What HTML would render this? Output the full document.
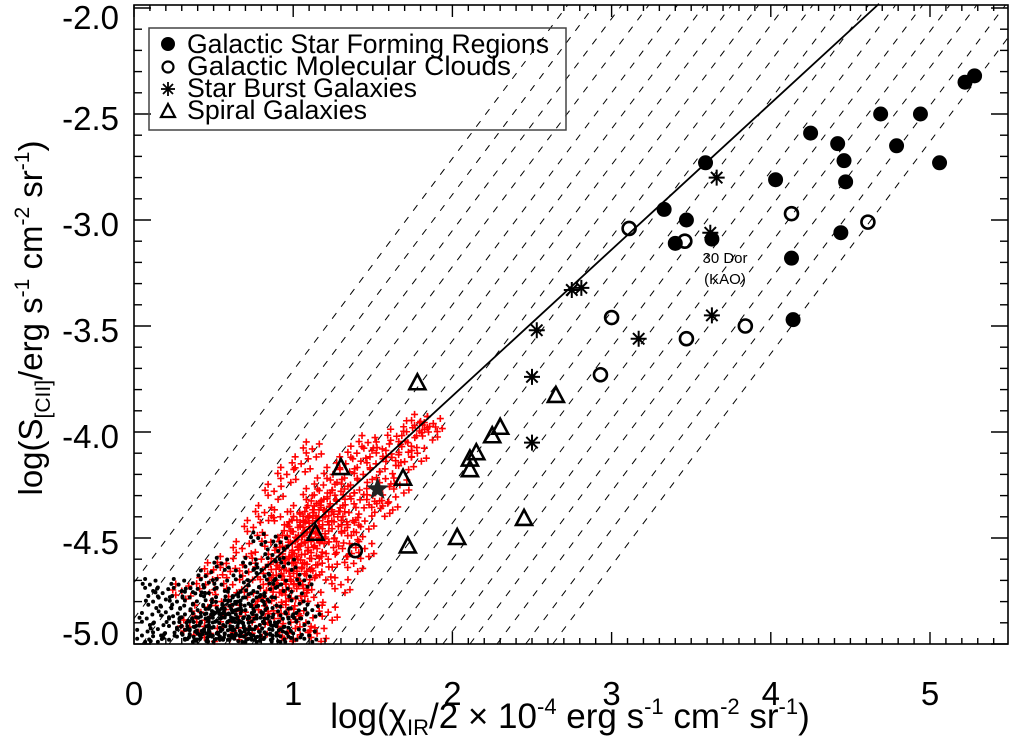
<!DOCTYPE html>
<html><head><meta charset="utf-8"><style>
html,body{margin:0;padding:0;background:#fff;}
svg{display:block;font-family:"Liberation Sans",Arial,sans-serif;}
</style></head><body>
<svg id="chart" width="1010" height="738" viewBox="0 0 1010 738" xmlns="http://www.w3.org/2000/svg">
<g id="layer-dashed"></g>
<g id="layer-red"></g>
<g id="layer-black"></g>
<g id="layer-fit"></g>
<g id="layer-marks"></g>
<g id="layer-axes"></g>
<g>
  <rect x="149" y="28" width="417" height="102" fill="none" stroke="#444" stroke-width="1.5"/>
  <circle cx="168" cy="44" r="7" fill="#000"/>
  <text x="187" y="53" font-size="27" textLength="362" lengthAdjust="spacingAndGlyphs">Galactic Star Forming Regions</text>
  <circle cx="168" cy="67" r="5.5" fill="none" stroke="#000" stroke-width="2.2"/>
  <text x="187" y="75" font-size="27" textLength="324" lengthAdjust="spacingAndGlyphs">Galactic Molecular Clouds</text>
  <g stroke="#000" stroke-width="1.8">
    <line x1="161" y1="89" x2="175" y2="89"/><line x1="168" y1="82" x2="168" y2="96"/>
    <line x1="163" y1="84" x2="173" y2="94"/><line x1="173" y1="84" x2="163" y2="94"/>
  </g>
  <text x="187" y="97" font-size="27" textLength="230" lengthAdjust="spacingAndGlyphs">Star Burst Galaxies</text>
  <polygon points="168,104 175,117 161,117" fill="none" stroke="#000" stroke-width="2.2"/>
  <text x="187" y="119" font-size="27" textLength="180" lengthAdjust="spacingAndGlyphs">Spiral Galaxies</text>
</g>
<text x="725" y="263" font-size="15" text-anchor="middle">30 Dor</text>
<text x="725" y="284" font-size="15" text-anchor="middle">(KAO)</text>
<text x="570" y="728" font-size="35" text-anchor="middle">log(χ<tspan font-size="22" dy="7">IR</tspan><tspan dy="-7">/2 × 10</tspan><tspan font-size="22" dy="-14">-4</tspan><tspan dy="14"> erg s</tspan><tspan font-size="22" dy="-14">-1</tspan><tspan dy="14"> cm</tspan><tspan font-size="22" dy="-14">-2</tspan><tspan dy="14"> sr</tspan><tspan font-size="22" dy="-14">-1</tspan><tspan dy="14">)</tspan></text>
<text transform="translate(42,318) rotate(-90)" font-size="33" text-anchor="middle">log(S<tspan font-size="21" dy="8">[CII]</tspan><tspan dy="-8">/erg s</tspan><tspan font-size="21" dy="-13">-1</tspan><tspan dy="13"> cm</tspan><tspan font-size="21" dy="-13">-2</tspan><tspan dy="13"> sr</tspan><tspan font-size="21" dy="-13">-1</tspan><tspan dy="13">)</tspan></text>
</svg>
<script>
const starForming = [[5.28,-2.32],[5.22,-2.35],[4.69,-2.50],[4.94,-2.50],[4.25,-2.59],[4.42,-2.64],[4.79,-2.65],[4.46,-2.72],[5.06,-2.73],[3.59,-2.73],[4.03,-2.81],[4.47,-2.82],[3.33,-2.95],[3.47,-3.00],[3.40,-3.11],[3.63,-3.09],[4.44,-3.06],[4.13,-3.18],[4.14,-3.47]];
const molecularClouds = [[3.11,-3.04],[3.46,-3.10],[4.13,-2.97],[4.61,-3.01],[3.00,-3.46],[3.84,-3.50],[3.47,-3.56],[2.93,-3.73],[1.39,-4.56]];
const starburst = [[3.66,-2.80],[3.62,-3.06],[3.63,-3.45],[3.17,-3.56],[2.75,-3.33],[2.81,-3.32],[2.53,-3.52],[2.50,-3.74],[2.50,-4.05]];
const spirals = [[1.78,-3.77],[2.65,-3.83],[2.30,-3.98],[2.25,-4.02],[2.15,-4.10],[2.11,-4.13],[2.11,-4.18],[1.30,-4.17],[1.69,-4.22],[1.14,-4.48],[1.72,-4.54],[2.03,-4.50],[2.45,-4.41]];
const highlightStar = [[1.53,-4.27]];
const redCloud = [[0.35,-4.92],[0.42,-4.85],[0.48,-4.95],[0.55,-4.8],[0.6,-4.9],[0.62,-4.72],[0.66,-4.98],[0.7,-4.85],[0.72,-4.66],[0.75,-4.76],[0.78,-4.93],[0.8,-4.6],[0.82,-4.82],[0.85,-4.7],[0.86,-4.52],[0.88,-4.88],[0.9,-4.63],[0.92,-4.4],[0.93,-4.76],[0.95,-4.55],[0.97,-4.95],[0.98,-4.68],[1.0,-4.47],[1.01,-4.82],[1.03,-4.6],[1.04,-4.38],[1.06,-4.72],[1.07,-4.52],[1.08,-4.9],[1.1,-4.43],[1.11,-4.65],[1.12,-4.3],[1.13,-4.78],[1.15,-4.55],[1.16,-4.4],[1.18,-4.66],[1.19,-4.25],[1.2,-4.48],[1.22,-4.6],[1.23,-4.35],[1.25,-4.2],[1.26,-4.5],[1.28,-4.4],[1.3,-4.28],[1.31,-4.55],[1.33,-4.15],[1.35,-4.38],[1.36,-4.25],[1.38,-4.47],[1.4,-4.1],[1.42,-4.32],[1.44,-4.2],[1.45,-4.42],[1.47,-4.05],[1.5,-4.3],[1.52,-4.15],[1.55,-4.36],[1.56,-4.08],[1.58,-4.22],[1.6,-4.33],[1.62,-4.12],[1.65,-4.02],[1.67,-4.25],[1.7,-4.14],[1.72,-4.05],[1.75,-3.98],[1.78,-4.1],[1.8,-3.95],[1.85,-4.0],[1.88,-3.96],[0.3,-4.75],[0.45,-4.72],[0.58,-4.62],[0.68,-4.55],[0.75,-4.45],[0.82,-4.38],[1.0,-4.98],[1.15,-4.95],[1.22,-4.85],[1.3,-4.72],[1.38,-4.62],[1.45,-4.55],[0.5,-4.65],[0.88,-4.28],[0.96,-4.2],[1.05,-4.15],[1.12,-4.08],[0.95,-4.62],[1.02,-4.5],[1.08,-4.42],[1.14,-4.48],[0.9,-4.72],[0.99,-4.58],[1.17,-4.33],[1.27,-4.32],[1.34,-4.45],[0.97,-4.52],[1.03,-4.45],[1.09,-4.56],[1.13,-4.38],[0.93,-4.68],[0.99,-4.75],[1.06,-4.62],[0.87,-4.78],[1.11,-4.5],[1.2,-4.4],[0.96,-4.86],[1.04,-4.7]];
const blackCloud = [[0.05,-4.96],[0.08,-4.88],[0.1,-4.72],[0.12,-4.8],[0.15,-4.93],[0.18,-4.76],[0.2,-4.85],[0.22,-4.98],[0.25,-4.9],[0.27,-4.8],[0.3,-4.95],[0.32,-4.86],[0.35,-4.78],[0.38,-4.92],[0.4,-4.84],[0.42,-4.97],[0.45,-4.88],[0.47,-4.76],[0.5,-4.92],[0.52,-4.83],[0.55,-4.72],[0.57,-4.95],[0.6,-4.86],[0.62,-4.78],[0.65,-4.92],[0.67,-4.68],[0.7,-4.84],[0.72,-4.95],[0.75,-4.75],[0.77,-4.88],[0.8,-4.65],[0.82,-4.97],[0.85,-4.8],[0.87,-4.58],[0.9,-4.9],[0.92,-4.72],[0.95,-4.85],[0.97,-4.62],[1.0,-4.95],[1.02,-4.78],[1.05,-4.88],[1.07,-4.7],[1.1,-4.96],[1.12,-4.84],[0.6,-4.98],[0.35,-4.96],[0.15,-4.99],[0.45,-4.68],[0.55,-4.62],[0.78,-4.5],[0.92,-4.52],[0.28,-4.72],[0.85,-4.93],[0.7,-4.99],[0.95,-4.99],[0.5,-4.99],[0.4,-4.74],[0.65,-4.8],[0.73,-4.62],[0.88,-4.7],[0.42,-4.9],[0.52,-4.95],[0.62,-4.92],[0.68,-4.9],[0.75,-4.96],[0.8,-4.85],[0.58,-4.86],[0.48,-4.82],[0.44,-4.94],[0.54,-4.88],[0.64,-4.86],[0.72,-4.9],[0.78,-4.82],[0.84,-4.88],[0.9,-4.96],[0.56,-4.98],[0.66,-4.96],[0.76,-4.98],[0.86,-4.98],[0.38,-4.98],[0.46,-4.98],[0.6,-4.82],[0.7,-4.78],[0.82,-4.76],[0.94,-4.92],[1.0,-4.86],[0.33,-4.9],[0.5,-4.86]];
const dashOffsets = [-4.71,-4.88,-5.05,-5.22,-5.40,-5.57,-5.74,-5.91,-6.08,-6.25,-6.43,-6.60,-6.77,-6.94,-7.11,-7.28,-7.46,-7.63];
const fitLine = [[0.45,-4.90],[4.68,-1.98]];
const xTicks = ["0","1","2","3","4","5"];
const yTicks = ["-5.0","-4.5","-4.0","-3.5","-3.0","-2.5","-2.0"];

const NS="http://www.w3.org/2000/svg";
const L=134,R=1008,T=5,B=644;
const X=v=>L+159.2*v;
const Y=v=>B-212*(v+5);
const XMAX=(R-L)/159.2, YMAX=-5+(B-T)/212;
// glyph cluster pattern used to render each cloud sample (style, not data)
const clusterPattern=[[0,0],[7,-5],[-6,4],[4,8],[-6,-7],[9,5],[-9,-1]];
function mk(tag,parent,attrs){const e=document.createElementNS(NS,tag);for(const k in attrs)e.setAttribute(k,attrs[k]);parent.appendChild(e);return e;}

const gd=document.getElementById('layer-dashed');
dashOffsets.forEach((c,i)=>{
  let x1=Math.max(0,-5-c), x2=Math.min(XMAX,YMAX-c);
  if(x2<=x1)return;
  const e=mk('line',gd,{x1:X(x1),y1:Y(x1+c),x2:X(x2),y2:Y(x2+c),stroke:'#000','stroke-width':1,'stroke-dasharray':'7 8'});
  
  
});

const clip=(x,y)=>x>=L+2&&x<=R-2&&y>=T+2&&y<=B-2;
const gr=document.getElementById('layer-red');
redCloud.forEach(p=>{
  const cx=X(p[0]),cy=Y(p[1]);let d='';
  clusterPattern.forEach(o=>{const x=cx+o[0],y=cy+o[1];if(clip(x,y))d+=`M${x-3.5},${y}H${x+3.5}M${x},${y-3.5}V${y+3.5}`;});
  const e=mk('path',gr,{d:d,stroke:'#f00','stroke-width':1.6});
  
  
});
const gb=document.getElementById('layer-black');
blackCloud.forEach(p=>{
  const cx=X(p[0]),cy=Y(p[1]);
  const g=mk('g',gb,{fill:'#000'});
  
  
  clusterPattern.forEach(o=>{const x=cx+o[0]*0.8,y=cy+o[1]*0.8;if(clip(x,y))mk('circle',g,{cx:x,cy:y,r:2});});
});

const gf=document.getElementById('layer-fit');
const fl=mk('line',gf,{x1:X(fitLine[0][0]),y1:Y(fitLine[0][1]),x2:X(fitLine[1][0]),y2:Y(fitLine[1][1]),stroke:'#000','stroke-width':1.8});



const gm=document.getElementById('layer-marks');
starForming.forEach(p=>{
  const e=mk('circle',gm,{cx:X(p[0]),cy:Y(p[1]),r:7.5,fill:'#000'});
  
  
});
molecularClouds.forEach(p=>{
  const e=mk('circle',gm,{cx:X(p[0]),cy:Y(p[1]),r:6.5,fill:'none',stroke:'#000','stroke-width':2.6});
  
  
});
starburst.forEach(p=>{
  const x=X(p[0]),y=Y(p[1]),s=8,d=5.7;
  const e=mk('path',gm,{d:`M${x-s},${y}H${x+s}M${x},${y-s}V${y+s}M${x-d},${y-d}L${x+d},${y+d}M${x+d},${y-d}L${x-d},${y+d}`,stroke:'#000','stroke-width':2});
  
  
});
spirals.forEach(p=>{
  const x=X(p[0]),y=Y(p[1]);
  const e=mk('polygon',gm,{points:`${x},${y-9} ${x+8},${y+6} ${x-8},${y+6}`,fill:'none',stroke:'#000','stroke-width':2.6});
  
  
});
highlightStar.forEach(p=>{
  const x=X(p[0]),y=Y(p[1]);let pts=[];
  for(let k=0;k<10;k++){const r=k%2?5:12,a=-Math.PI/2+k*Math.PI/5;pts.push((x+r*Math.cos(a)).toFixed(1)+','+(y+r*Math.sin(a)).toFixed(1));}
  const e=mk('polygon',gm,{points:pts.join(' '),fill:'#222'});
  
  
});

const ga=document.getElementById('layer-axes');
const fr=mk('rect',ga,{x:L,y:T,width:R-L,height:B-T,fill:'none',stroke:'#000','stroke-width':1.6});


for(let i=0;i<=55;i++){
  const v=i/10,x=X(v);if(x>R)break;const len=i%10===0?12:6;
  const t1=mk('line',ga,{x1:x,y1:B,x2:x,y2:B-len,stroke:'#000','stroke-width':1.4});
  
  
  const t2=mk('line',ga,{x1:x,y1:T,x2:x,y2:T+len,stroke:'#000','stroke-width':1.4});
  
  
}
for(let i=0;i<=30;i++){
  const v=-5+i/10,y=Y(v);const len=i%5===0?17:8;
  const t1=mk('line',ga,{x1:L,y1:y,x2:L+len,y2:y,stroke:'#000','stroke-width':1.4});
  
  
  const t2=mk('line',ga,{x1:R,y1:y,x2:R-len,y2:y,stroke:'#000','stroke-width':1.4});
  
  
}
xTicks.forEach(s=>{
  const e=mk('text',ga,{x:X(parseFloat(s)),y:705,'font-size':33,'text-anchor':'middle'});
  e.textContent=s;
  
  
});
yTicks.forEach(s=>{
  let y=Y(parseFloat(s))+16;y=Math.max(29,Math.min(645,y));
  const e=mk('text',ga,{x:119,y:y,'font-size':33,'text-anchor':'end'});
  e.textContent=s;
  
  
});
</script>
</body></html>
